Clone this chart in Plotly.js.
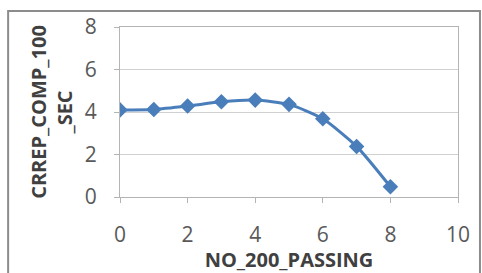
<!DOCTYPE html>
<html><head><meta charset="utf-8">
<script src="https://cdn.plot.ly/plotly-3.0.1.min.js"></script>
<style>html,body{margin:0;padding:0;background:#fff}#c{width:482px;height:273px}</style>
</head><body><div id="c"></div>
<script>
const xValues = [0, 1, 2, 3, 4, 5, 6, 7, 8];
const yValues = [4.1, 4.12, 4.28, 4.48, 4.56, 4.36, 3.68, 2.38, 0.48];
const xTicks = [0, 2, 4, 6, 8, 10];
const yTicks = [0, 2, 4, 6, 8];
const xTitle = 'NO_200_PASSING';
const yTitle = 'CRREP_COMP_100<br>_SEC';

const font = 'Open Sans, Liberation Sans, sans-serif';
Plotly.newPlot('c', [{
  x: xValues, y: yValues, type: 'scatter', mode: 'lines+markers',
  line: {color: '#4a7ebb', width: 3, shape: 'spline', smoothing: 0.6},
  marker: {symbol: 'diamond', size: 12, color: '#4a7ebb'},
  hoverinfo: 'none'
}], {
  width: 482, height: 273,
  margin: {l: 120, r: 24, t: 27, b: 76},
  paper_bgcolor: '#fff', plot_bgcolor: '#fff',
  showlegend: false,
  xaxis: {
    range: [0, 10], tickvals: xTicks, ticktext: xTicks.map(String),
    showgrid: false, zeroline: false,
    showline: true, linecolor: '#b4b4b4', linewidth: 1, mirror: true,
    ticks: 'outside', ticklen: 5, tickcolor: '#b4b4b4', ticklabelstandoff: 14,
    tickfont: {family: font, size: 21, color: '#595959'},
    title: {text: xTitle, font: {family: font, size: 20, color: '#404040', weight: 'bold'}, standoff: 0}
  },
  yaxis: {
    range: [0, 8], tickvals: yTicks, ticktext: yTicks.map(String),
    showgrid: true, gridcolor: '#d0d0d0', gridwidth: 1, zeroline: false,
    showline: true, linecolor: '#b4b4b4', linewidth: 1, mirror: true,
    ticks: 'outside', ticklen: 5, tickcolor: '#b4b4b4', ticklabelstandoff: 13,
    tickfont: {family: font, size: 21, color: '#595959'},
    title: {text: yTitle, font: {family: font, size: 20, color: '#404040', weight: 'bold'}, standoff: 6}
  },
  shapes: [{type: 'rect', xref: 'paper', yref: 'paper',
    x0: -0.331, x1: 1.065, y0: -0.5, y1: 1.094,
    line: {color: '#8c8c8c', width: 2}, fillcolor: 'rgba(0,0,0,0)', layer: 'below'}]
}, {displayModeBar: false, staticPlot: true});
</script></body></html>
